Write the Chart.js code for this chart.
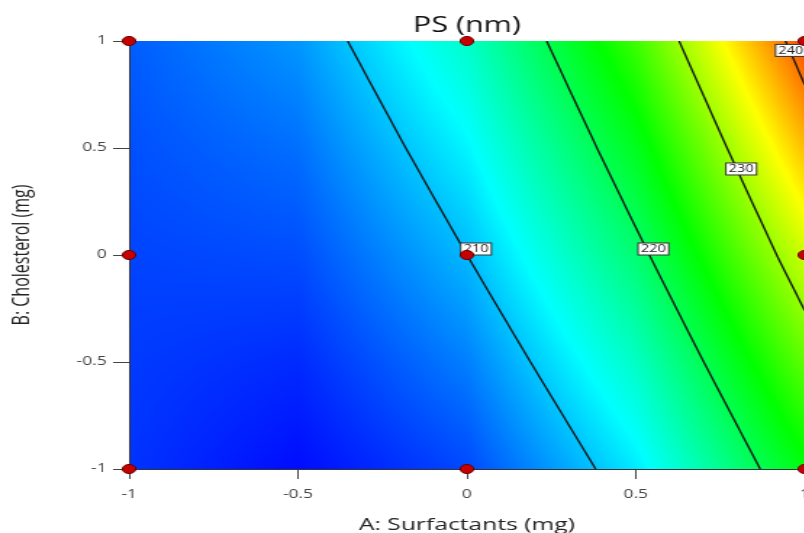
<!DOCTYPE html>
<html>
<head>
<meta charset="utf-8">
<script src="https://cdn.jsdelivr.net/npm/chart.js@4.4.1/dist/chart.umd.min.js"></script>
<style>
  html, body { margin: 0; padding: 0; background: #fff; overflow: hidden; }
  /* the reference picture is stretched sideways, so is the canvas */
  #psChart { display: block; transform: scaleX(1.45); transform-origin: 0 0; }
</style>
</head>
<body>
<canvas id="psChart" width="644" height="533"></canvas>
<script>
// Coded factor levels of the surface grid
const gridA = [-1, -0.5, 0, 0.5, 1];
const gridB = [1, 0.5, 0, -0.5, -1];

// PS (nm), one row per gridB value
const psRow1 = [206.0, 208.5, 215.3, 226.5, 242.0];
const psRow05 = [205.4, 206.8, 212.6, 222.7, 237.2];
const psRow0 = [204.9, 205.3, 210.0, 219.1, 232.5];
const psRowM05 = [204.5, 203.8, 207.5, 215.5, 227.9];
const psRowM1 = [204.2, 202.5, 205.1, 212.1, 223.4];
const psGrid = [psRow1, psRow05, psRow0, psRowM05, psRowM1];

// Colour scale (blue -> cyan -> green -> yellow -> red)
const colorValues = [202, 213, 224, 234.5, 245];
const colorStops = [[0, 0, 255], [0, 255, 255], [0, 255, 0], [255, 255, 0], [255, 0, 0]];

// Contour lines
const contourLevels = ['210', '220', '230', '240'];
const contourA = [
    [-0.353, -0.181, 0, 0.188, 0.381],
    [0.236, 0.385, 0.540, 0.701, 0.868],
    [0.628, 0.770, 0.917, 1],
    [0.943, 0.971, 1]
];
const contourB = [
    [1, 0.5, 0, -0.5, -1],
    [1, 0.5, 0, -0.5, -1],
    [1, 0.5, 0, -0.26],
    [1, 0.9, 0.795]
];
const labelA = [0.027, 0.552, 0.812, 0.959];
const labelB = [0.028, 0.028, 0.402, 0.956];

// Design points
const designA = [-1, 0, 1, -1, 0, 1, -1, 0, 1];
const designB = [1, 1, 1, 0, 0, 0, -1, -1, -1];

// Axis ticks
const tickValues = [-1, -0.5, 0, 0.5, 1];
const tickLabels = ['-1', '-0.5', '0', '0.5', '1'];

const fontFamily = '"Open Sans", "Noto Sans", sans-serif';

function psAt(a, b) {
    let i = 0, j = 0;
    while (i < gridA.length - 2 && a > gridA[i + 1]) i++;
    while (j < gridB.length - 2 && b < gridB[j + 1]) j++;
    const ta = (a - gridA[i]) / (gridA[i + 1] - gridA[i]);
    const tb = (b - gridB[j]) / (gridB[j + 1] - gridB[j]);
    const top = psGrid[j][i] * (1 - ta) + psGrid[j][i + 1] * ta;
    const bot = psGrid[j + 1][i] * (1 - ta) + psGrid[j + 1][i + 1] * ta;
    return top * (1 - tb) + bot * tb;
}

function colorFor(v) {
    if (v <= colorValues[0]) return colorStops[0];
    for (let k = 1; k < colorValues.length; k++) {
        if (v <= colorValues[k]) {
            const t = (v - colorValues[k - 1]) / (colorValues[k] - colorValues[k - 1]);
            const c0 = colorStops[k - 1], c1 = colorStops[k];
            return [0, 1, 2].map(n => c0[n] + (c1[n] - c0[n]) * t);
        }
    }
    return colorStops[colorStops.length - 1];
}

// Fills the plot area with the shaded surface
const surfacePlugin = {
    id: 'surface',
    beforeDraw(chart) {
        const { ctx, chartArea, scales } = chart;
        const left = Math.round(chartArea.left), top = Math.round(chartArea.top);
        const w = Math.round(chartArea.right) - left, h = Math.round(chartArea.bottom) - top;
        const img = ctx.createImageData(w, h);
        for (let py = 0; py < h; py++) {
            const b = scales.y.getValueForPixel(top + py + 0.5);
            for (let px = 0; px < w; px++) {
                const a = scales.x.getValueForPixel(left + px + 0.5);
                const c = colorFor(psAt(a, b));
                const o = (py * w + px) * 4;
                img.data[o] = c[0];
                img.data[o + 1] = c[1];
                img.data[o + 2] = c[2];
                img.data[o + 3] = 255;
            }
        }
        ctx.putImageData(img, left, top);
    }
};

// Boxed labels on the contour lines, under the design points
const contourLabelPlugin = {
    id: 'contourLabels',
    beforeDatasetDraw(chart, args) {
        if (args.index !== 0) return;
        const { ctx, scales } = chart;
        ctx.save();
        ctx.font = '10px ' + fontFamily;
        ctx.textAlign = 'center';
        ctx.textBaseline = 'middle';
        contourLevels.forEach((text, i) => {
            const px = scales.x.getPixelForValue(labelA[i]);
            const py = scales.y.getPixelForValue(labelB[i]);
            const bw = ctx.measureText(text).width + 4, bh = 12;
            ctx.fillStyle = '#ffffff';
            ctx.fillRect(px - bw / 2, py - bh / 2, bw, bh);
            ctx.strokeStyle = '#333333';
            ctx.lineWidth = 1;
            ctx.strokeRect(px - bw / 2, py - bh / 2, bw, bh);
            ctx.fillStyle = '#222222';
            ctx.fillText(text, px, py + 0.5);
        });
        ctx.restore();
    }
};

const contourSets = contourLevels.map((level, i) => ({
    label: level,
    data: contourA[i].map((a, k) => ({ x: a, y: contourB[i][k] })),
    showLine: true,
    borderColor: '#111111',
    borderWidth: 1.3,
    tension: 0.2,
    pointRadius: 0
}));

const axisBase = {
    type: 'linear',
    min: -1,
    max: 1,
    afterBuildTicks: scale => { scale.ticks = tickValues.map(v => ({ value: v })); },
    border: { display: true, color: '#333333', width: 1 },
};

const ctx = document.getElementById('psChart').getContext('2d');
const psChart = new Chart(ctx, {
    type: 'scatter',
    data: {
        datasets: [{
            label: 'Design points',
            data: designA.map((a, k) => ({ x: a, y: designB[k] })),
            pointRadius: 4.6,
            pointBackgroundColor: '#c40000',
            pointBorderColor: '#6a0000',
            pointBorderWidth: 1,
            clip: false
        }].concat(contourSets)
    },
    options: {
        responsive: false,
        animation: false,
        events: [],
        layout: { padding: 0 },
        scales: {
            x: Object.assign({}, axisBase, {
                grid: { drawOnChartArea: false, drawTicks: true, tickLength: 10, color: '#444444' },
                ticks: {
                    autoSkip: false, maxRotation: 0, padding: 8,
                    color: '#444444', font: { family: fontFamily, size: 12 },
                    callback: (v, i) => tickLabels[i]
                },
                title: {
                    display: true, text: 'A: Surfactants (mg)', color: '#222222',
                    font: { family: fontFamily, size: 17 }, padding: { top: 0, bottom: -2 }
                },
                afterFit: scale => { scale.height = 64; }
            }),
            y: Object.assign({}, axisBase, {
                grid: { drawOnChartArea: false, drawTicks: true, tickLength: 11, color: '#444444' },
                ticks: {
                    autoSkip: false, padding: 4.5,
                    color: '#444444', font: { family: fontFamily, size: 12 },
                    callback: (v, i) => tickLabels[i]
                },
                title: {
                    display: true, text: 'B: Cholesterol (mg)', color: '#222222',
                    font: { family: fontFamily, size: 16 }, padding: { top: 6, bottom: 0 }
                },
                afterFit: scale => { scale.width = 89; }
            }),
            // empty margin on the right so the title centres over the plot
            yRight: {
                type: 'linear', position: 'right', min: -1, max: 1,
                grid: { display: false }, border: { display: false }, ticks: { display: false },
                afterFit: scale => { scale.width = 89; }
            }
        },
        plugins: {
            legend: { display: false },
            tooltip: { enabled: false },
            title: {
                display: true,
                text: 'PS (nm)',
                color: '#111111',
                font: { family: fontFamily, size: 21, weight: 'normal' },
                padding: { top: 13, bottom: 2.8 }
            }
        }
    },
    plugins: [surfacePlugin, contourLabelPlugin]
});
</script>
</body>
</html>
